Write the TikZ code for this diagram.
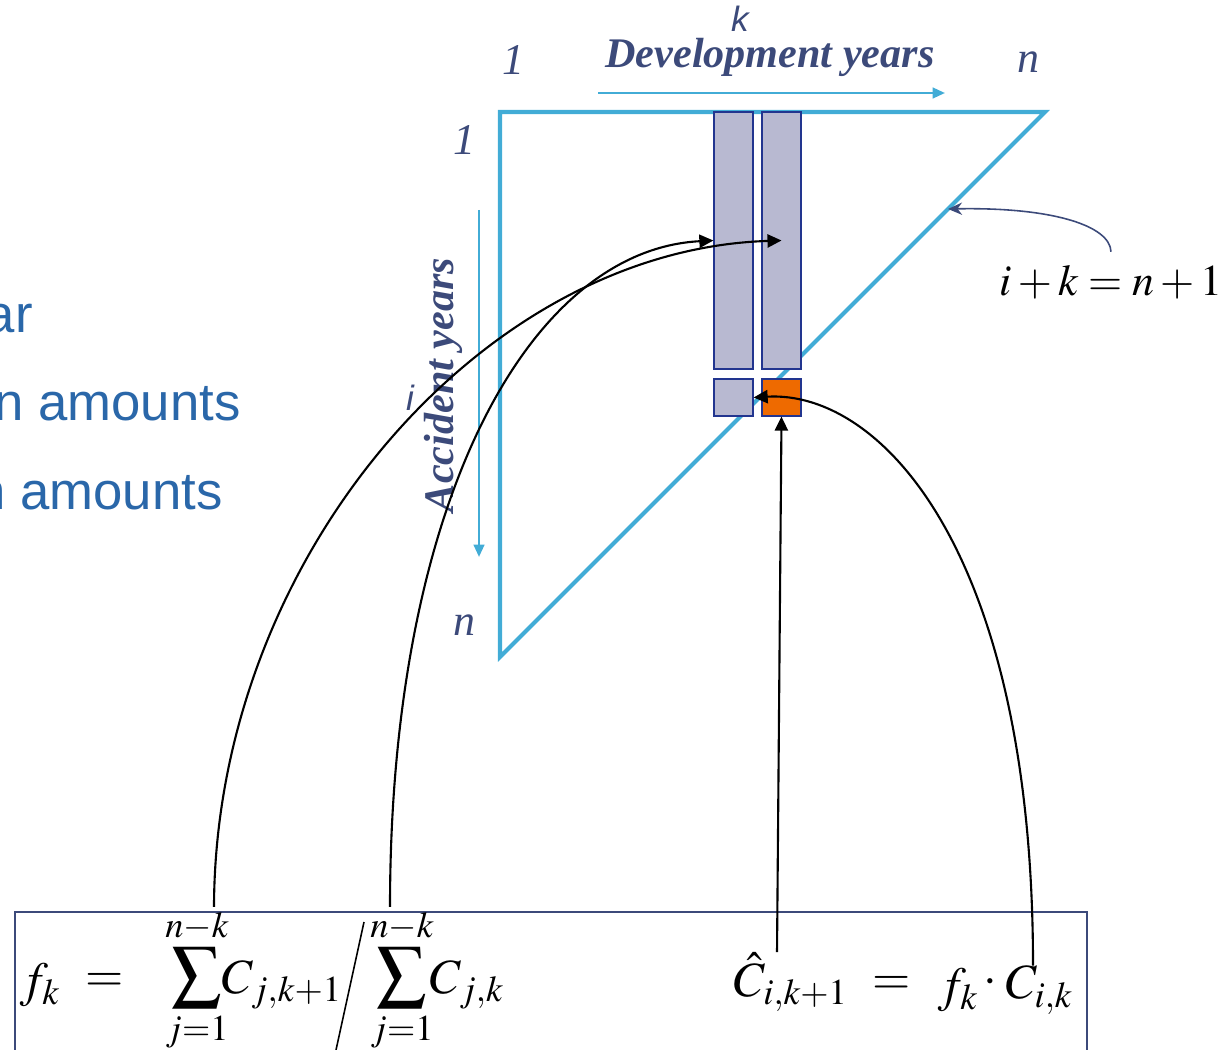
\documentclass[tikz,border=0pt]{standalone}
\usepackage{mathptmx}
\usepackage[no-math]{fontspec}
\setmainfont{Liberation Serif}
\setsansfont{Liberation Sans}
\usetikzlibrary{positioning,arrows.meta}
\definecolor{triblue}{HTML}{42ACD6}
\definecolor{cellfill}{HTML}{B8B9D1}
\definecolor{celledge}{HTML}{22358F}
\definecolor{cellorange}{HTML}{EE6A00}
\definecolor{slate}{HTML}{3C4A7A}
\definecolor{bulletblue}{HTML}{2A67A9}

\begin{document}
\begin{tikzpicture}[x=0.02cm, y=-0.02cm,
  every node/.style={inner sep=0pt},
  axislabel/.style={text=slate, font=\fontsize{24}{28}\selectfont\bfseries\itshape},
  idx/.style={text=slate, font=\fontsize{25}{30}\selectfont\itshape},
  var/.style={text=slate, font=\fontsize{20}{24}\selectfont\sffamily\itshape},
  bullettext/.style={text=bulletblue, font=\fontsize{30}{36}\selectfont\sffamily, anchor=base east},
  eqn/.style={font=\fontsize{28}{34}\selectfont},
  cell/.style={draw=celledge, fill=cellfill, line width=0.7pt, minimum width=0.78cm},
  bluearrow/.style={triblue, line width=1.4pt, -{Triangle[length=7pt,width=6pt]}},
  link/.style={black, line width=1.2pt, -{Triangle[length=8pt,width=7.5pt]}}
]
\path[use as bounding box] (0,0) rectangle (1229,1050);
\clip (0,0) rectangle (1229,1050);

% bits of slide text cut off at the left
\node[bullettext] (lineone) at (33,333) {ar};
\node[bullettext] (linetwo) at (241,420) {n amounts};
\node[bullettext] (linethree) at (223,509) {n amounts};

% run-off triangle
\draw[triblue, line width=2.3pt, line join=miter] (500,112) -- (1045,112) -- (500,657) -- cycle;

\node[axislabel] (devyears) at (770,57) {Development years};
\node[axislabel, rotate=90] (accyears) at (443,385) {Accident years};
\node[var] (kmark) at (740,19) {k};
\node[var] (imark) at (410,398) {i};
\node[idx] (topone) at (513,60) {1};
\node[idx] (topn) at (1028,62) {n};
\node[idx] (leftone) at (464,140) {1};
\node[idx] (leftn) at (464,625) {n};

\coordinate (devfrom) at (598,93);
\coordinate (devto) at (945,93);
\coordinate (accfrom) at (479,210);
\coordinate (accto) at (479,557);
\draw[bluearrow] (devfrom) -- (devto);
\draw[bluearrow] (accfrom) -- (accto);

% columns k and k+1
\node[cell, minimum height=5.14cm] (colk) at (733.5,240.5) {};
\node[cell, minimum height=5.14cm] (colnext) at (781.5,240.5) {};
\node[cell, minimum height=0.74cm] (known) at (733.5,397.5) {};
\node[cell, fill=cellorange, minimum height=0.74cm] (estimate) at (781.5,397.5) {};

\node[font=\fontsize{25}{30}\selectfont] (relation) at (1111,282) {$i+k=n+1$};
\coordinate (diag) at (948,209);
\draw[slate, line width=0.9pt, -{Stealth[length=8pt,width=7pt]}]
  ([yshift=0.26cm]relation.north) .. controls (1110,225) and (1050,207) .. (diag);

% formula box
\draw[slate, line width=0.9pt] (15,912) rectangle (1087,1070);
\node[eqn] (fk) at (40,985) {$f_k$};
\node[eqn] (eqa) at (105,982) {$=$};
\node[eqn] (suma) at (197,980) {$\displaystyle\sum_{j=1}^{n-k}$};
\node[eqn] (ca) at (282,985) {$C_{j,k+1}$};
\draw[black, line width=0.9pt] (364,922) -- (336,1050);
\node[eqn] (sumb) at (402,980) {$\displaystyle\sum_{j=1}^{n-k}$};
\node[eqn] (cb) at (467,985) {$C_{j,k}$};
\node[eqn] (chat) at (791,982) {$\hat{C}_{i,k+1}$};
\node[eqn] (eqb) at (892,985) {$=$};
\node[eqn] (fkb) at (958,990) {$f_k$};
\node[eqn] (dot) at (990,983) {$\cdot$};
\node[eqn] (cik) at (1039,990) {$C_{i,k}$};

\draw[link] ([xshift=0.34cm]suma.north) .. controls (215,560) and (480,250) .. (colnext.center);
\draw[link] ([xshift=-0.24cm]sumb.north) .. controls (390,500) and (530,250) .. (colk.west);
\draw[link] ([xshift=-0.28cm]chat.north) -- (estimate.south);
\draw[link] ([xshift=-0.12cm]cik.north) .. controls (1033,550) and (880,390) .. (known.east);
\end{tikzpicture}
\end{document}
